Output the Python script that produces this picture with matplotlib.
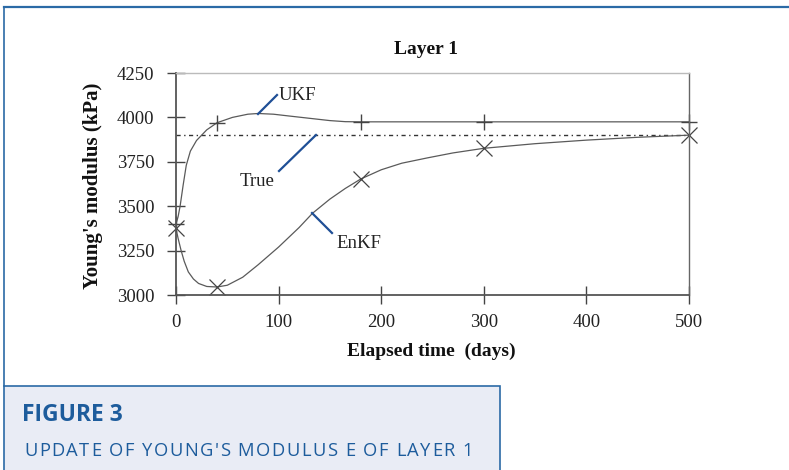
import matplotlib
matplotlib.use("Agg")
import matplotlib.pyplot as plt
from matplotlib.patches import Rectangle
from matplotlib.lines import Line2D
from matplotlib.font_manager import FontProperties

# ---- data ----
true_value = 3900
x_limits = [0, 500]
y_limits = [3000, 4250]
x_ticks = [0, 100, 200, 300, 400, 500]
y_ticks = [3000, 3250, 3500, 3750, 4000, 4250]

ukf_days = [0, 2, 4, 7, 10, 14, 20, 25, 30, 40, 55, 70, 80, 95, 110, 130, 150, 165, 180, 300, 500]
ukf_vals = [3400, 3440, 3500, 3620, 3730, 3810, 3870, 3900, 3930, 3970, 4000, 4018, 4022,
            4018, 4008, 3995, 3982, 3976, 3975, 3975, 3975]
ukf_mark_days = [0, 40, 180, 300, 500]
ukf_mark_vals = [3400, 3970, 3975, 3975, 3975]

enkf_days = [0, 2, 5, 8, 12, 17, 22, 30, 40, 50, 65, 80, 100, 120, 133, 150, 165, 180,
             200, 220, 245, 270, 300, 350, 400, 450, 500]
enkf_vals = [3375, 3320, 3250, 3190, 3130, 3090, 3065, 3048, 3045, 3055, 3100, 3170, 3270,
             3380, 3460, 3540, 3600, 3653, 3705, 3742, 3772, 3800, 3826, 3852, 3872, 3888, 3900]
enkf_mark_days = [0, 40, 180, 300, 500]
enkf_mark_vals = [3375, 3045, 3653, 3826, 3900]

title = "Layer 1"
x_label = "Elapsed time  (days)"
y_label = "Young's modulus (kPa)"
fig_label = "FIGURE 3"
fig_caption = "UPDATE OF YOUNG'S MODULUS E OF LAYER 1"

# ---- styles ----
W, H = 789, 470
BLUE = "#2b6aa6"
TXTBLUE = "#1d5c9c"
FILL = "#e9ecf5"
SERIF = ["Liberation Serif", "DejaVu Serif"]
LINE = "#5a5a5a"

fig = plt.figure(figsize=(W / 100, H / 100), dpi=100)
fig.patch.set_facecolor("white")

def fx(px):
    return px / W

def fy(py):
    return 1 - py / H

# outer frame (top and left edges)
fig.add_artist(Line2D([fx(4), fx(789)], [fy(7), fy(7)], color=BLUE, lw=1.6))
fig.add_artist(Line2D([fx(4), fx(4)], [fy(7), fy(386)], color=BLUE, lw=1.2))
# caption box
fig.add_artist(Rectangle((fx(4), fy(472)), fx(500) - fx(4), fy(386) - fy(472),
                         transform=fig.transFigure, facecolor=FILL, edgecolor=BLUE, lw=1.2))
fig.text(fx(22), fy(415), fig_label, color=TXTBLUE, fontsize=16.5, fontweight="bold",
         family="Open Sans", va="center", ha="left")

# tracked (letter-spaced) caption line
cap_prop = FontProperties(family="Open Sans", size=13.2)
renderer = fig.canvas.get_renderer()
def str_w(s):
    if not s:
        return 0.0
    w, h, d = renderer.get_text_width_height_descent(s, cap_prop, ismath=False)
    return w
natural = str_w(fig_caption)
target = 449.0
track = (target - natural) / (len(fig_caption) - 1)
x0 = 24.0
for i, ch in enumerate(fig_caption):
    if ch == " ":
        continue
    xpos = x0 + str_w(fig_caption[:i]) + i * track
    fig.text(fx(xpos), fy(451), ch, color=TXTBLUE, fontproperties=cap_prop,
             va="center", ha="left")

ax = fig.add_axes([fx(176), fy(295), fx(689) - fx(176), fy(73) - fy(295)])
ax.set_xlim(*x_limits)
ax.set_ylim(*y_limits)

ax.axhline(true_value, color="#333333", lw=1.0, ls=(0, (3, 2.5, 1, 2.5)))
ax.plot(ukf_days, ukf_vals, color=LINE, lw=0.9, clip_on=False)
ax.plot(enkf_days, enkf_vals, color=LINE, lw=0.9, clip_on=False)
ax.plot(ukf_mark_days, ukf_mark_vals, ls="none", marker="+", ms=11, mew=1.0,
        color="#444444", clip_on=False)
ax.plot(enkf_mark_days, enkf_mark_vals, ls="none", marker="x", ms=11, mew=0.9,
        color="#444444", clip_on=False)

ax.set_xticks(x_ticks)
ax.set_yticks(y_ticks)
ax.tick_params(direction="inout", length=13, width=1.0, color="#444444",
               labelsize=13.5, labelcolor="#222222")
ax.tick_params(axis="x", pad=7)
ax.tick_params(axis="y", pad=9)
for lab in ax.get_xticklabels() + ax.get_yticklabels():
    lab.set_family(SERIF)

for s in ["left", "bottom"]:
    ax.spines[s].set_color("#555555")
    ax.spines[s].set_linewidth(1.3)
ax.spines["right"].set_color("#666666")
ax.spines["right"].set_linewidth(1.0)
ax.spines["top"].set_color("#bbbbbb")
ax.spines["top"].set_linewidth(1.0)

fig.text(fx(426), fy(50), title, family=SERIF, fontweight="bold", fontsize=14,
         ha="center", va="center", color="#111111")
fig.text(fx(431), fy(351), x_label, family=SERIF, fontweight="bold", fontsize=14,
         ha="center", va="center", color="#111111")
fig.text(fx(93), fy(186), y_label, family=SERIF, fontweight="bold", fontsize=15,
         ha="center", va="center", rotation=90, color="#111111")

# annotations with blue leader lines
def leader(x0, y0, x1, y1):
    fig.add_artist(Line2D([fx(x0), fx(x1)], [fy(y0), fy(y1)], color="#1f4f96", lw=1.6))

ann_size = 13.5
leader(258, 114, 277, 95)
fig.text(fx(279), fy(95), "UKF", family=SERIF, fontsize=ann_size, ha="left", va="center", color="#222222")
leader(316, 135, 279, 171)
fig.text(fx(257), fy(181), "True", family=SERIF, fontsize=ann_size, ha="center", va="center", color="#222222")
leader(312, 213, 332, 233)
fig.text(fx(336), fy(243), "EnKF", family=SERIF, fontsize=ann_size, ha="left", va="center", color="#222222")

fig.savefig("out.png", dpi=100, facecolor="white")
